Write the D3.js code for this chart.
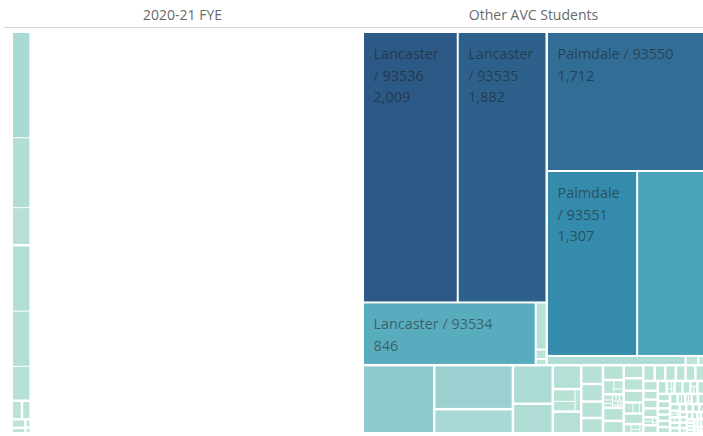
<!DOCTYPE html>
<html>
<head>
<meta charset="utf-8">
<script src="https://cdn.jsdelivr.net/npm/d3@7"></script>
<style>
  body { margin: 0; background: #fff; }
  svg { display: block; }
  text { font-family: 'Open Sans', 'DejaVu Sans', sans-serif; }
</style>
</head>
<body>
<svg id="chart" width="703" height="436"></svg>
<script>
// ---------------- DATA ----------------
const paneTitles = ["2020-21 FYE", "Other AVC Students"];

// Pane 1: 2020-21 FYE
const fyeCity  = ["Lancaster","Lancaster","Lancaster","Palmdale","Palmdale","Palmdale",
                  "Rosamond","Littlerock","Quartz Hill","Lake Los Angeles","Acton","California City"];
const fyeZip   = ["93536","93535","93534","93550","93551","93552",
                  "93560","93543","93536","93535","93510","93505"];
const fyeCount = [137, 91, 48, 85, 72, 44, 13, 11, 8, 5, 3, 2];

// Pane 2: Other AVC Students
const avcCity = [
  "Lancaster","Lancaster","Lancaster","Lancaster","Lancaster","Lancaster",
  "Palmdale","Palmdale","Palmdale","Palmdale","Palmdale","Palmdale",
  "Rosamond","Littlerock","Quartz Hill","Lake Los Angeles","Acton","California City",
  "Santa Clarita","Santa Clarita","Santa Clarita","Mojave","Tehachapi","Llano","Pearblossom",
  "Edwards","Boron","Victorville","Victorville","Victorville",
  "Los Angeles","Los Angeles","Los Angeles","Los Angeles","Los Angeles","Los Angeles",
  "Los Angeles","Los Angeles","Los Angeles","Los Angeles","Los Angeles",
  "Hesperia","Castaic","Antelope Acres","Agua Dulce","Leona Valley",
  "Valencia","Valencia","Valencia","Apple Valley",
  "Bakersfield","Bakersfield","Bakersfield","Bakersfield","Phelan","Adelanto","Neenach",
  "Canyon Country","Ridgecrest","Newhall","Saugus",
  "Sylmar","North Edwards","San Fernando","Glendale","Glendale","Glendale","Glendale",
  "Northridge","Lebec","Long Beach","Long Beach","Long Beach","Long Beach",
  "Van Nuys","Frazier Park","Pasadena","Pasadena","Pasadena","Lake Hughes","Gorman",
  "Tujunga","Sun Valley","Pacoima","North Hills","Reseda","Canoga Park","Burbank","Burbank",
  "Torrance","Torrance","Torrance","Inglewood","Compton","Pomona",
  "Riverside","Riverside","Riverside","San Bernardino","San Bernardino",
  "Fontana","Ontario","Rancho Cucamonga","Oxnard","Simi Valley",
  "Ventura","Thousand Oaks","Anaheim","Santa Ana","San Diego","San Diego","Fresno","Sacramento",
  "Hawthorne","Carson","Whittier","Downey","Norwalk","Lakewood","Chino","Corona","Temecula",
  "Irvine","Oakland","San Jose","Barstow","Inyokern"
];
const avcZip = [
  "93536","93535","93534","93539","93584","93586",
  "93550","93551","93552","93591","93590","93599",
  "93560","93543","93536","93535","93510","93505",
  "91350","91380","91387","93501","93561","93544","93553",
  "93523","93516","92392","92394","92395",
  "90001","90044","90003","90011","90016","90019","90037","90043","90047","90059","90061",
  "92345","91384","93536","91390","93551",
  "91354","91355","91381","92307",
  "93307","93309","93312","93313","92371","92301","93536",
  "91351","93555","91321","91350",
  "91342","93523","91340","91201","91202","91205","91206",
  "91324","93243","90805","90806","90810","90813",
  "91405","93225","91101","91103","91104","93532","93243",
  "91042","91352","91331","91343","91335","91303","91501","91505",
  "90501","90503","90504","90301","90220","91766",
  "92501","92503","92505","92404","92407",
  "92335","91761","91730","93030","93065",
  "93001","91360","92801","92701","92101","92115","93710","95820",
  "90250","90745","90601","90241","90650","90712","91710","92879","92592",
  "92618","94601","95112","92311","93527"
];
const avcCount = [
  2009, 1882, 846, 40, 8, 5,
  1712, 1307, 970, 98, 9, 4,
  380, 270, 148, 120, 92, 53,
  22, 18, 10, 48, 32, 30, 28,
  26, 24, 12, 7, 4,
  4, 3, 3, 2, 2, 2, 2, 1, 1, 1, 1,
  21, 20, 20, 19, 18,
  8, 6, 3, 16,
  5, 4, 3, 2, 14, 13, 13,
  12, 12, 11, 11,
  10, 10, 10, 3, 3, 2, 1,
  9, 9, 3, 2, 2, 1,
  8, 8, 3, 2, 2, 7, 7,
  7, 6, 6, 6, 6, 6, 3, 3,
  2, 2, 1, 5, 5, 5,
  2, 2, 1, 2, 2,
  4, 4, 4, 4, 4,
  3, 3, 3, 3, 2, 1, 3, 3,
  2, 2, 2, 2, 2, 2, 2, 2, 2,
  1, 1, 1, 1, 1
];

// Tableau "Blue-Teal" sequential palette
const paletteStops = ["#bce4d8","#aedcd5","#a1d5d2","#95cecf","#89c8cc","#7ec1ca","#72bac6",
  "#66b2c2","#59acbe","#4ba5ba","#419eb6","#3b96b2","#358ead","#3586a7","#347ea1",
  "#32779b","#316f96","#2f6790","#2d608a","#2c5985"];

// ---------------- LAYOUT ----------------
const svg = d3.select("#chart");
const W = 703, H = 436;
const paneX = [13, 364];
const paneW = 339;
const plotTop = 33, plotBottom = 432;
const titleY = 20, ruleY = 27.5;

function buildRows(cities, zips, counts) {
  return cities.map((c, i) => ({ city: c, zip: zips[i], count: counts[i] }));
}
function buildTree(rows) {
  const groups = d3.group(rows, r => r.city);
  return {
    name: "root",
    children: Array.from(groups, ([city, rs]) => ({ name: city, children: rs.map(r => ({ ...r })) }))
  };
}

const panes = [
  buildRows(fyeCity, fyeZip, fyeCount),
  buildRows(avcCity, avcZip, avcCount)
];
const paneTotals = panes.map(rows => d3.sum(rows, r => r.count));
const maxTotal = d3.max(paneTotals);
const allCounts = fyeCount.concat(avcCount);

const color = d3.scaleSequential(d3.interpolateRgbBasis(paletteStops))
  .domain([d3.min(allCounts), d3.max(allCounts)]);

const fmt = d3.format(",");

// header
svg.append("line")
  .attr("x1", 4).attr("x2", W).attr("y1", ruleY).attr("y2", ruleY)
  .attr("stroke", "#d9d9d9").attr("stroke-width", 1);

paneTitles.forEach((t, i) => {
  svg.append("text")
    .attr("x", paneX[i] + paneW / 2)
    .attr("y", titleY)
    .attr("text-anchor", "middle")
    .attr("font-size", 14)
    .attr("fill", "#6a6a6a")
    .text(t);
});

const labelSize = 14.4, lineH = 21.5, padL = 9.5, firstBase = 26;

panes.forEach((rows, i) => {
  const h = plotBottom - plotTop;
  const w = paneW * paneTotals[i] / maxTotal;
  const root = d3.hierarchy(buildTree(rows))
    .sum(d => d.count || 0)
    .sort((a, b) => b.value - a.value);

  d3.treemap()
    .tile(d3.treemapSquarify)
    .size([w, h])
    .paddingInner(d => d.depth === 0 ? 2.5 : (d.value > 500 ? 2 : 1))
    (root);

  const g = svg.append("g").attr("transform", `translate(${paneX[i]},${plotTop})`);
  const leaves = root.leaves();

  const cell = g.selectAll("g.cell").data(leaves).join("g")
    .attr("class", "cell")
    .attr("transform", d => `translate(${d.x0},${d.y0})`);

  cell.append("rect")
    .attr("width", d => Math.max(0, d.x1 - d.x0))
    .attr("height", d => Math.max(0, d.y1 - d.y0))
    .attr("fill", d => color(d.data.count));

  // labels: only when they fit (as Tableau does)
  cell.each(function(d) {
    const cw = d.x1 - d.x0, ch = d.y1 - d.y0;
    if (cw < 30 || ch < 30) return;
    const sel = d3.select(this);
    const full = `${d.data.city} / ${d.data.zip}`;
    const probe = sel.append("text").attr("font-size", labelSize).text(full);
    let lines;
    if (probe.node().getComputedTextLength() <= cw - 2 * padL) {
      lines = [full];
    } else {
      lines = [d.data.city, `/ ${d.data.zip}`];
    }
    probe.remove();
    lines.push(fmt(d.data.count));
    let ok = true;
    lines.forEach(l => {
      const t = sel.append("text").attr("font-size", labelSize).text(l);
      if (t.node().getComputedTextLength() > cw - 2 * padL) ok = false;
      t.remove();
    });
    if (firstBase + lineH * (lines.length - 1) + 6 > ch) ok = false;
    if (!ok) return;
    const txt = sel.append("text")
      .attr("font-size", labelSize)
      .attr("fill", "#1c1c1c")
      .attr("fill-opacity", 0.55);
    lines.forEach((l, k) => {
      txt.append("tspan")
        .attr("x", padL)
        .attr("y", firstBase + k * lineH)
        .text(l);
    });
  });
});
</script>
</body>
</html>
